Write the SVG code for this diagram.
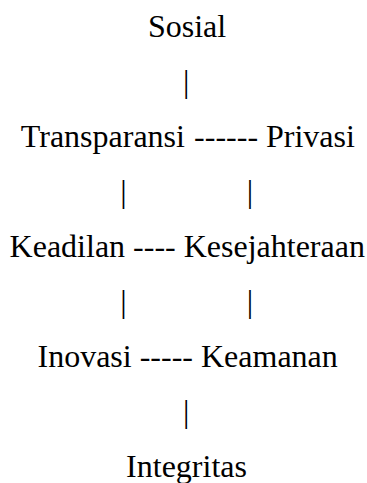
<svg xmlns="http://www.w3.org/2000/svg" width="367" height="483" viewBox="0 0 367 483">
<style>
text{font-family:"Liberation Serif","Times New Roman",serif;font-size:32px;fill:#000}
.m{text-anchor:middle}
</style>
<rect width="367" height="483" fill="#fff"/>
<g id="connectors">
<text class="m" x="186.3" y="92">|</text>
<text x="194.1" y="147">------</text>
<text class="m" x="123.5" y="202">|</text>
<text class="m" x="250" y="202">|</text>
<text x="133.1" y="257">----</text>
<text class="m" x="123.5" y="312">|</text>
<text class="m" x="250" y="312">|</text>
<text x="139.7" y="367">-----</text>
<text class="m" x="186.3" y="422">|</text>
</g>
<g id="sosial"><text class="m" x="187" y="37">Sosial</text></g>
<g id="transparansi"><text x="20.8" y="147">Transparansi</text></g>
<g id="privasi"><text x="266" y="147">Privasi</text></g>
<g id="keadilan"><text x="9.6" y="257">Keadilan</text></g>
<g id="kesejahteraan"><text x="183.7" y="257">Kesejahteraan</text></g>
<g id="inovasi"><text x="37.5" y="367">Inovasi</text></g>
<g id="keamanan"><text x="201" y="367">Keamanan</text></g>
<g id="integritas"><text class="m" x="186.5" y="477">Integritas</text></g>
</svg>
